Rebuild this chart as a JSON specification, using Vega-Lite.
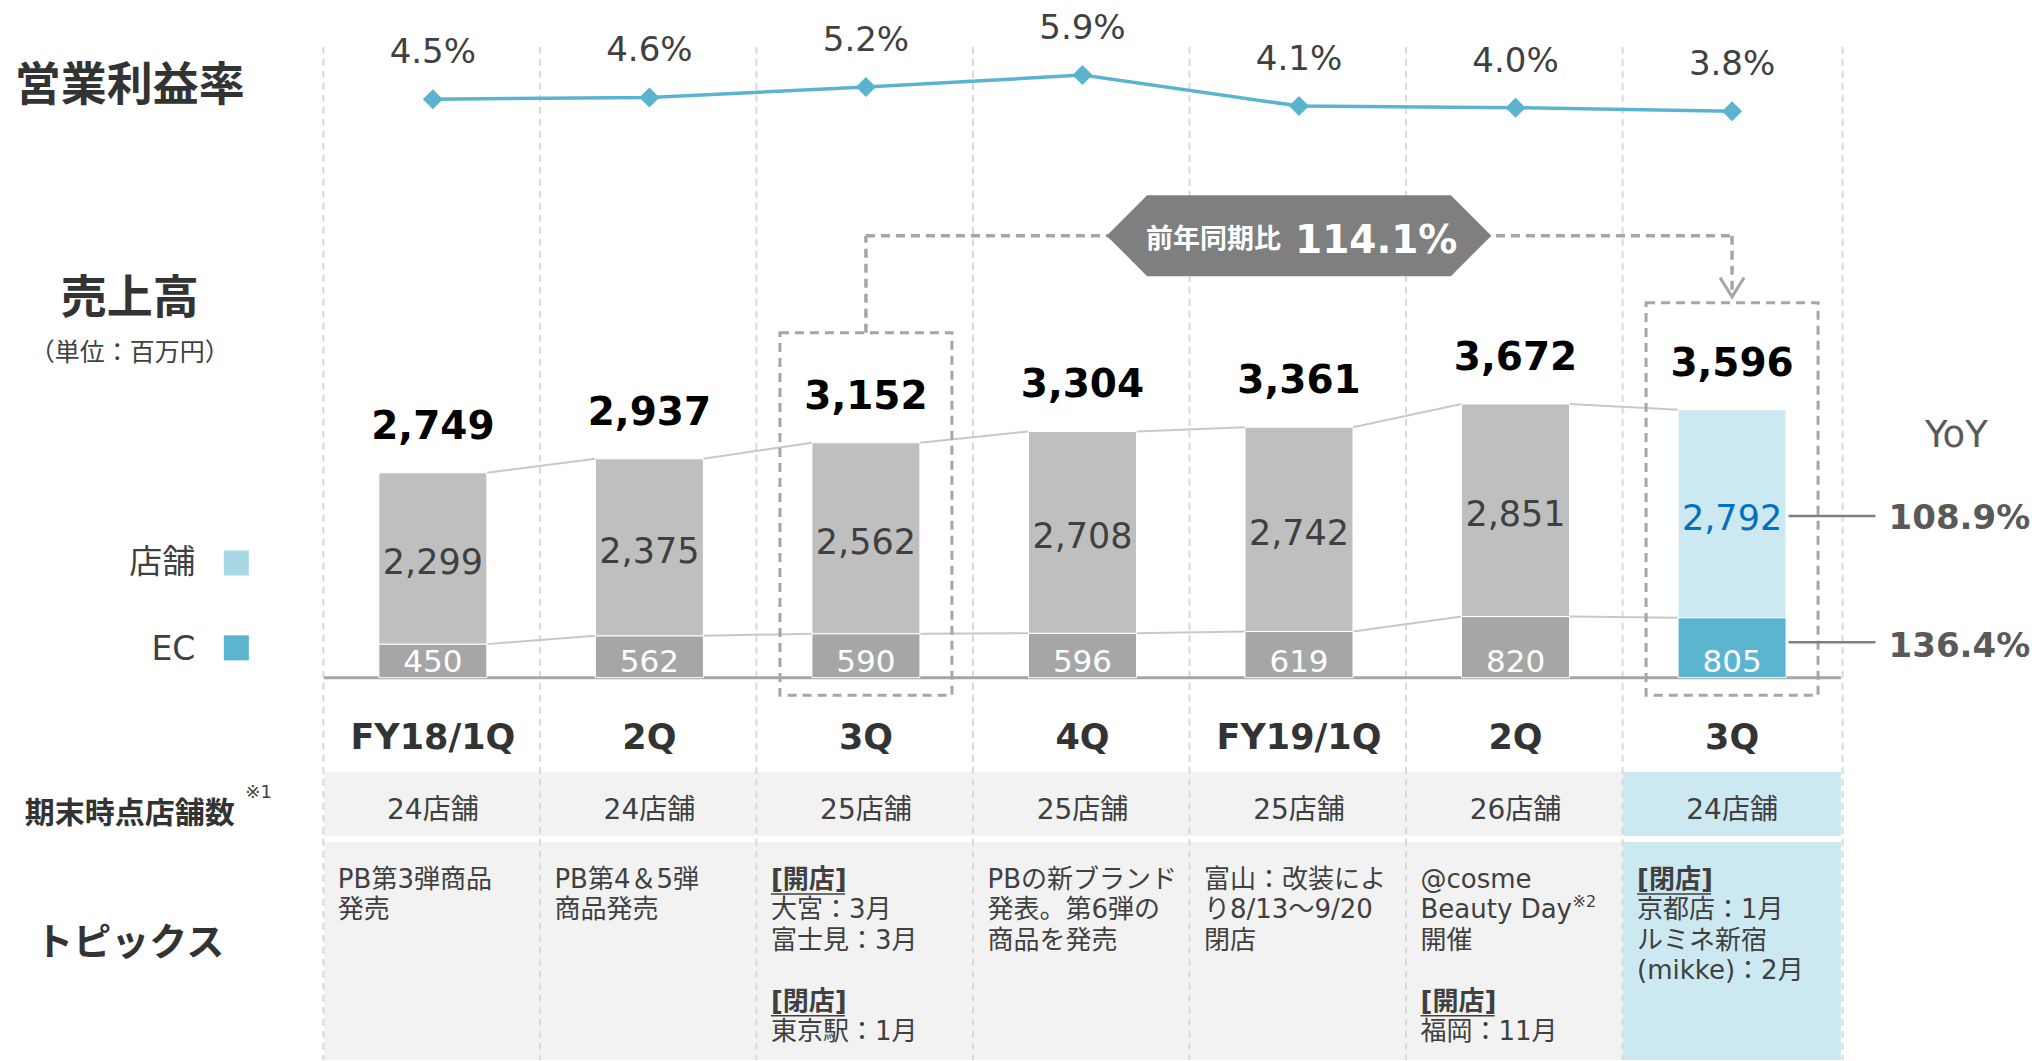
{
"$schema":"https://vega.github.io/schema/vega-lite/v6.json",
"width":2040,"height":1061,
"autosize":{"type":"fit","contains":"padding"},
"padding":0,
"background":"#ffffff",
"config":{"view":{"stroke":null},"text":{"font":"DejaVu Sans, Noto Sans CJK JP","baseline":"middle"}},
"datasets":{
 "sales":[
  {"q":1,"period":"FY18/1Q","store":2299,"ec":450,"total":2749,"shops":"24店舗"},
  {"q":2,"period":"2Q","store":2375,"ec":562,"total":2937,"shops":"24店舗"},
  {"q":3,"period":"3Q","store":2562,"ec":590,"total":3152,"shops":"25店舗"},
  {"q":4,"period":"4Q","store":2708,"ec":596,"total":3304,"shops":"25店舗"},
  {"q":5,"period":"FY19/1Q","store":2742,"ec":619,"total":3361,"shops":"25店舗"},
  {"q":6,"period":"2Q","store":2851,"ec":820,"total":3672,"shops":"26店舗"},
  {"q":7,"period":"3Q","store":2792,"ec":805,"total":3596,"shops":"24店舗"}
 ],
 "margin":[{"q":1,"rate":0.045},{"q":2,"rate":0.046},{"q":3,"rate":0.052},{"q":4,"rate":0.059},{"q":5,"rate":0.041},{"q":6,"rate":0.040},{"q":7,"rate":0.038}],
 "topics":[
  {"q":1,"line":0,"t":"PB第3弾商品"},
  {"q":1,"line":1,"t":"発売"},
  {"q":2,"line":0,"t":"PB第4＆5弾"},
  {"q":2,"line":1,"t":"商品発売"},
  {"q":3,"line":0,"t":"[開店]","head":true},
  {"q":3,"line":1,"t":"大宮：3月"},
  {"q":3,"line":2,"t":"富士見：3月"},
  {"q":3,"line":4,"t":"[閉店]","head":true},
  {"q":3,"line":5,"t":"東京駅：1月"},
  {"q":4,"line":0,"t":"PBの新ブランド"},
  {"q":4,"line":1,"t":"発表。第6弾の"},
  {"q":4,"line":2,"t":"商品を発売"},
  {"q":5,"line":0,"t":"富山：改装によ"},
  {"q":5,"line":1,"t":"り8/13～9/20"},
  {"q":5,"line":2,"t":"閉店"},
  {"q":6,"line":0,"t":"@cosme"},
  {"q":6,"line":1,"t":"Beauty Day","note":"※2"},
  {"q":6,"line":2,"t":"開催"},
  {"q":6,"line":4,"t":"[開店]","head":true},
  {"q":6,"line":5,"t":"福岡：11月"},
  {"q":7,"line":0,"t":"[閉店]","head":true},
  {"q":7,"line":1,"t":"京都店：1月"},
  {"q":7,"line":2,"t":"ルミネ新宿"},
  {"q":7,"line":3,"t":"(mikke)：2月"}
 ],
 "yoy":[{"seg":"store","yoy":1.089},{"seg":"ec","yoy":1.364}]
},
"resolve":{"scale":{"y":"independent"}},
"layer":[
 {
  "layer":[
   {"data":{"name":"sales"},
    "mark":{"type":"rect","xOffset":-108.8,"x2Offset":108.8},
    "encoding":{
     "x":{"field":"q","type":"quantitative","scale":{"domain":[-0.976,8.399],"nice":false,"zero":false},"axis":null},
     "x2":{"field":"q"},
     "y":{"datum":-1267,"type":"quantitative","scale":{"domain":[-5130,9092.5],"nice":false,"zero":false},"axis":null},
     "y2":{"datum":-2125},
     "fill":{"condition":{"test":"datum.q === 7","value":"#CCE8F0"},"value":"#F2F2F2"}}},
   {"data":{"name":"sales"},
    "mark":{"type":"rect","xOffset":-108.8,"x2Offset":108.8},
    "encoding":{
     "x":{"field":"q","type":"quantitative","scale":{"domain":[-0.976,8.399],"nice":false,"zero":false},"axis":null},
     "x2":{"field":"q"},
     "y":{"datum":-2205,"type":"quantitative","scale":{"domain":[-5130,9092.5],"nice":false,"zero":false},"axis":null},
     "y2":{"datum":-5130},
     "fill":{"condition":{"test":"datum.q === 7","value":"#CCE8F0"},"value":"#F2F2F2"}}},
   {"data":{"name":"sales"},
    "mark":{"type":"rule","xOffset":-109.5,"stroke":"#D9D9D9","strokeWidth":2,"strokeDash":[7,5]},
    "encoding":{
     "x":{"field":"q","type":"quantitative","scale":{"domain":[-0.976,8.399],"nice":false,"zero":false},"axis":null},
     "y":{"datum":8463,"type":"quantitative","scale":{"domain":[-5130,9092.5],"nice":false,"zero":false},"axis":null},
     "y2":{"datum":-5130}}},
   {"data":{"name":"sales"},
    "transform":[{"filter":"datum.q === 7"}],
    "mark":{"type":"rule","xOffset":110.5,"stroke":"#D9D9D9","strokeWidth":2,"strokeDash":[7,5]},
    "encoding":{
     "x":{"field":"q","type":"quantitative","scale":{"domain":[-0.976,8.399],"nice":false,"zero":false},"axis":null},
     "y":{"datum":8463,"type":"quantitative","scale":{"domain":[-5130,9092.5],"nice":false,"zero":false},"axis":null},
     "y2":{"datum":-5130}}},
   {"data":{"values":[{}]},
    "mark":{"type":"rule","xOffset":-108.8,"x2Offset":108.8,"stroke":"#A6A6A6","strokeWidth":3},
    "encoding":{
     "x":{"datum":1,"type":"quantitative","scale":{"domain":[-0.976,8.399],"nice":false,"zero":false},"axis":null},
     "x2":{"datum":7},
     "y":{"datum":0,"type":"quantitative","scale":{"domain":[-5130,9092.5],"nice":false,"zero":false},"axis":null}}},
   {"data":{"name":"sales"},
    "transform":[{"window":[{"op":"lead","field":"total","as":"nt"},{"op":"lead","field":"ec","as":"ne"},{"op":"lead","field":"q","as":"nq"}],"sort":[{"field":"q"}]},{"filter":"isValid(datum.nq)"}],
    "mark":{"type":"rule","xOffset":54,"x2Offset":-54,"stroke":"#C8C8C8","strokeWidth":2},
    "encoding":{
     "x":{"field":"q","type":"quantitative","scale":{"domain":[-0.976,8.399],"nice":false,"zero":false},"axis":null},
     "x2":{"field":"nq"},
     "y":{"field":"total","type":"quantitative","scale":{"domain":[-5130,9092.5],"nice":false,"zero":false},"axis":null},
     "y2":{"field":"nt"}}},
   {"data":{"name":"sales"},
    "transform":[{"window":[{"op":"lead","field":"total","as":"nt"},{"op":"lead","field":"ec","as":"ne"},{"op":"lead","field":"q","as":"nq"}],"sort":[{"field":"q"}]},{"filter":"isValid(datum.nq)"}],
    "mark":{"type":"rule","xOffset":54,"x2Offset":-54,"stroke":"#C8C8C8","strokeWidth":2},
    "encoding":{
     "x":{"field":"q","type":"quantitative","scale":{"domain":[-0.976,8.399],"nice":false,"zero":false},"axis":null},
     "x2":{"field":"nq"},
     "y":{"field":"ec","type":"quantitative","scale":{"domain":[-5130,9092.5],"nice":false,"zero":false},"axis":null},
     "y2":{"field":"ne"}}},
   {"data":{"name":"sales"},
    "mark":{"type":"bar","orient":"vertical","width":108,"opacity":1,"stroke":"#ffffff","strokeWidth":1},
    "encoding":{
     "x":{"field":"q","type":"quantitative","scale":{"domain":[-0.976,8.399],"nice":false,"zero":false},"axis":null},
     "y":{"field":"ec","type":"quantitative","scale":{"domain":[-5130,9092.5],"nice":false,"zero":false},"axis":null},
     "y2":{"datum":0},
     "fill":{"condition":{"test":"datum.q === 7","value":"#5BB5D0"},"value":"#A6A6A6"}}},
   {"data":{"name":"sales"},
    "mark":{"type":"bar","orient":"vertical","width":108,"opacity":1,"stroke":"#ffffff","strokeWidth":1},
    "encoding":{
     "x":{"field":"q","type":"quantitative","scale":{"domain":[-0.976,8.399],"nice":false,"zero":false},"axis":null},
     "y":{"field":"total","type":"quantitative","scale":{"domain":[-5130,9092.5],"nice":false,"zero":false},"axis":null},
     "y2":{"field":"ec"},
     "fill":{"condition":{"test":"datum.q === 7","value":"#CCE8F0"},"value":"#BFBFBF"}}},
   {"data":{"name":"sales"},
    "mark":{"type":"text","dy":-46,"fontSize":39,"fontWeight":"bold","fill":"#000000"},
    "encoding":{
     "x":{"field":"q","type":"quantitative","scale":{"domain":[-0.976,8.399],"nice":false,"zero":false},"axis":null},
     "y":{"field":"total","type":"quantitative","scale":{"domain":[-5130,9092.5],"nice":false,"zero":false},"axis":null},
     "text":{"field":"total","type":"quantitative","format":","}}},
   {"data":{"name":"sales"},
    "transform":[{"fold":["ec","total"],"as":["part","edge"]},{"aggregate":[{"op":"mean","field":"edge","as":"mid"}],"groupby":["q","store"]}],
    "mark":{"type":"text","dy":5,"fontSize":35},
    "encoding":{
     "x":{"field":"q","type":"quantitative","scale":{"domain":[-0.976,8.399],"nice":false,"zero":false},"axis":null},
     "y":{"field":"mid","type":"quantitative","scale":{"domain":[-5130,9092.5],"nice":false,"zero":false},"axis":null},
     "text":{"field":"store","type":"quantitative","format":","},
     "fill":{"condition":{"test":"datum.q === 7","value":"#0070C0"},"value":"#404040"}}},
   {"data":{"name":"sales"},
    "mark":{"type":"text","dy":-15,"fontSize":31,"fill":"#ffffff"},
    "encoding":{
     "x":{"field":"q","type":"quantitative","scale":{"domain":[-0.976,8.399],"nice":false,"zero":false},"axis":null},
     "y":{"datum":0,"type":"quantitative","scale":{"domain":[-5130,9092.5],"nice":false,"zero":false},"axis":null},
     "text":{"field":"ec","type":"quantitative","format":","}}},
   {"data":{"name":"sales"},
    "mark":{"type":"text","dy":1,"fontSize":35,"fontWeight":"bold","fill":"#333333"},
    "encoding":{
     "x":{"field":"q","type":"quantitative","scale":{"domain":[-0.976,8.399],"nice":false,"zero":false},"axis":null},
     "y":{"datum":-800,"type":"quantitative","scale":{"domain":[-5130,9092.5],"nice":false,"zero":false},"axis":null},
     "text":{"field":"period","type":"nominal"}}},
   {"data":{"name":"sales"},
    "mark":{"type":"text","dy":5,"fontSize":28,"fill":"#404040"},
    "encoding":{
     "x":{"field":"q","type":"quantitative","scale":{"domain":[-0.976,8.399],"nice":false,"zero":false},"axis":null},
     "y":{"datum":-1725,"type":"quantitative","scale":{"domain":[-5130,9092.5],"nice":false,"zero":false},"axis":null},
     "text":{"field":"shops","type":"nominal"}}},
   {"data":{"values":[{}]},
    "mark":{"type":"rect","xOffset":-86,"x2Offset":86,"fill":null,"fillOpacity":0,"stroke":"#A6A6A6","strokeWidth":3,"strokeDash":[9,6]},
    "encoding":{
     "x":{"datum":3,"type":"quantitative","scale":{"domain":[-0.976,8.399],"nice":false,"zero":false},"axis":null},
     "x2":{"datum":3},
     "y":{"datum":4629,"type":"quantitative","scale":{"domain":[-5130,9092.5],"nice":false,"zero":false},"axis":null},
     "y2":{"datum":-237}}},
   {"data":{"values":[{}]},
    "mark":{"type":"rect","xOffset":-86,"x2Offset":86,"fill":null,"fillOpacity":0,"stroke":"#A6A6A6","strokeWidth":3,"strokeDash":[9,6]},
    "encoding":{
     "x":{"datum":7,"type":"quantitative","scale":{"domain":[-0.976,8.399],"nice":false,"zero":false},"axis":null},
     "x2":{"datum":7},
     "y":{"datum":5031,"type":"quantitative","scale":{"domain":[-5130,9092.5],"nice":false,"zero":false},"axis":null},
     "y2":{"datum":-237}}},
   {"data":{"values":[{}]},
    "mark":{"type":"rule","stroke":"#A6A6A6","strokeWidth":3.5,"strokeDash":[9,6]},
    "encoding":{
     "x":{"datum":3,"type":"quantitative","scale":{"domain":[-0.976,8.399],"nice":false,"zero":false},"axis":null},
     "y":{"datum":4629,"type":"quantitative","scale":{"domain":[-5130,9092.5],"nice":false,"zero":false},"axis":null},
     "y2":{"datum":5931}}},
   {"data":{"values":[{}]},
    "mark":{"type":"rule","stroke":"#A6A6A6","strokeWidth":3.5,"strokeDash":[9,6]},
    "encoding":{
     "x":{"datum":3,"type":"quantitative","scale":{"domain":[-0.976,8.399],"nice":false,"zero":false},"axis":null},
     "x2":{"datum":7},
     "y":{"datum":5931,"type":"quantitative","scale":{"domain":[-5130,9092.5],"nice":false,"zero":false},"axis":null}}},
   {"data":{"values":[{}]},
    "mark":{"type":"rule","stroke":"#A6A6A6","strokeWidth":3.5,"strokeDash":[9,6]},
    "encoding":{
     "x":{"datum":7,"type":"quantitative","scale":{"domain":[-0.976,8.399],"nice":false,"zero":false},"axis":null},
     "y":{"datum":5931,"type":"quantitative","scale":{"domain":[-5130,9092.5],"nice":false,"zero":false},"axis":null},
     "y2":{"datum":5111}}},
   {"data":{"values":[{}]},
    "mark":{"type":"point","shape":"M -1 -0.8 L 0 0.8 L 1 -0.8","size":576,"filled":false,"opacity":1,"stroke":"#A6A6A6","strokeWidth":3},
    "encoding":{
     "x":{"datum":7,"type":"quantitative","scale":{"domain":[-0.976,8.399],"nice":false,"zero":false},"axis":null},
     "y":{"datum":5239,"type":"quantitative","scale":{"domain":[-5130,9092.5],"nice":false,"zero":false},"axis":null}}},
   {"data":{"values":[{}]},
    "mark":{"type":"point","shape":"M -4.75 0 L -3.75 -1 L 3.75 -1 L 4.75 0 L 3.75 1 L -3.75 1 Z","size":6561,"filled":true,"opacity":1,"fill":"#7F7F7F","strokeWidth":0},
    "encoding":{
     "x":{"datum":5,"type":"quantitative","scale":{"domain":[-0.976,8.399],"nice":false,"zero":false},"axis":null},
     "y":{"datum":5931,"type":"quantitative","scale":{"domain":[-5130,9092.5],"nice":false,"zero":false},"axis":null}}},
   {"data":{"values":[{"t":"前年同期比"}]},
    "mark":{"type":"text","align":"right","dx":-18,"dy":4,"fontSize":27,"fontWeight":"bold","fill":"#ffffff"},
    "encoding":{
     "x":{"datum":5,"type":"quantitative","scale":{"domain":[-0.976,8.399],"nice":false,"zero":false},"axis":null},
     "y":{"datum":5931,"type":"quantitative","scale":{"domain":[-5130,9092.5],"nice":false,"zero":false},"axis":null},
     "text":{"field":"t"}}},
   {"data":{"values":[{"r":1.141}]},
    "mark":{"type":"text","align":"left","dx":-4,"dy":5,"fontSize":39,"fontWeight":"bold","fill":"#ffffff"},
    "encoding":{
     "x":{"datum":5,"type":"quantitative","scale":{"domain":[-0.976,8.399],"nice":false,"zero":false},"axis":null},
     "y":{"datum":5931,"type":"quantitative","scale":{"domain":[-5130,9092.5],"nice":false,"zero":false},"axis":null},
     "text":{"field":"r","type":"quantitative","format":".1%"}}},
   {"data":{"values":[{"t":"営業利益率"}]},
    "mark":{"type":"text","dy":1,"fontSize":46,"fontWeight":"bold","fill":"#333333"},
    "encoding":{
     "x":{"datum":-0.4,"type":"quantitative","scale":{"domain":[-0.976,8.399],"nice":false,"zero":false},"axis":null},
     "y":{"datum":7953,"type":"quantitative","scale":{"domain":[-5130,9092.5],"nice":false,"zero":false},"axis":null},
     "text":{"field":"t"}}},
   {"data":{"values":[{"t":"売上高"}]},
    "mark":{"type":"text","dy":2,"fontSize":46,"fontWeight":"bold","fill":"#333333"},
    "encoding":{
     "x":{"datum":-0.4,"type":"quantitative","scale":{"domain":[-0.976,8.399],"nice":false,"zero":false},"axis":null},
     "y":{"datum":5111,"type":"quantitative","scale":{"domain":[-5130,9092.5],"nice":false,"zero":false},"axis":null},
     "text":{"field":"t"}}},
   {"data":{"values":[{"t":"（単位：百万円）"}]},
    "mark":{"type":"text","dy":1,"fontSize":25,"fill":"#404040"},
    "encoding":{
     "x":{"datum":-0.4,"type":"quantitative","scale":{"domain":[-0.976,8.399],"nice":false,"zero":false},"axis":null},
     "y":{"datum":4374,"type":"quantitative","scale":{"domain":[-5130,9092.5],"nice":false,"zero":false},"axis":null},
     "text":{"field":"t"}}},
   {"data":{"values":[{"t":"期末時点店舗数"}]},
    "mark":{"type":"text","dy":3,"fontSize":30,"fontWeight":"bold","fill":"#333333"},
    "encoding":{
     "x":{"datum":-0.4,"type":"quantitative","scale":{"domain":[-0.976,8.399],"nice":false,"zero":false},"axis":null},
     "y":{"datum":-1790,"type":"quantitative","scale":{"domain":[-5130,9092.5],"nice":false,"zero":false},"axis":null},
     "text":{"field":"t"}}},
   {"data":{"values":[{"t":"※1"}]},
    "mark":{"type":"text","align":"left","dx":29,"dy":2,"fontSize":18,"fill":"#404040"},
    "encoding":{
     "x":{"datum":0,"type":"quantitative","scale":{"domain":[-0.976,8.399],"nice":false,"zero":false},"axis":null},
     "y":{"datum":-1521,"type":"quantitative","scale":{"domain":[-5130,9092.5],"nice":false,"zero":false},"axis":null},
     "text":{"field":"t"}}},
   {"data":{"values":[{"t":"トピックス"}]},
    "mark":{"type":"text","dy":2,"fontSize":38,"fontWeight":"bold","fill":"#333333"},
    "encoding":{
     "x":{"datum":-0.4,"type":"quantitative","scale":{"domain":[-0.976,8.399],"nice":false,"zero":false},"axis":null},
     "y":{"datum":-3548,"type":"quantitative","scale":{"domain":[-5130,9092.5],"nice":false,"zero":false},"axis":null},
     "text":{"field":"t"}}},
   {"data":{"values":[{"t":"店舗"}]},
    "mark":{"type":"text","align":"right","dx":-21,"dy":4,"fontSize":33,"fill":"#404040"},
    "encoding":{
     "x":{"datum":0,"type":"quantitative","scale":{"domain":[-0.976,8.399],"nice":false,"zero":false},"axis":null},
     "y":{"datum":1586,"type":"quantitative","scale":{"domain":[-5130,9092.5],"nice":false,"zero":false},"axis":null},
     "text":{"field":"t"}}},
   {"data":{"values":[{"t":"EC"}]},
    "mark":{"type":"text","align":"right","dx":-21,"dy":4,"fontSize":33,"fill":"#404040"},
    "encoding":{
     "x":{"datum":0,"type":"quantitative","scale":{"domain":[-0.976,8.399],"nice":false,"zero":false},"axis":null},
     "y":{"datum":420,"type":"quantitative","scale":{"domain":[-5130,9092.5],"nice":false,"zero":false},"axis":null},
     "text":{"field":"t"}}},
   {"data":{"values":[{}]},
    "mark":{"type":"point","shape":"square","size":625,"filled":true,"opacity":1,"xOffset":20,"fill":"#A8D8E5","strokeWidth":0},
    "encoding":{
     "x":{"datum":0,"type":"quantitative","scale":{"domain":[-0.976,8.399],"nice":false,"zero":false},"axis":null},
     "y":{"datum":1539,"type":"quantitative","scale":{"domain":[-5130,9092.5],"nice":false,"zero":false},"axis":null}}},
   {"data":{"values":[{}]},
    "mark":{"type":"point","shape":"square","size":625,"filled":true,"opacity":1,"xOffset":20,"fill":"#5BB5D0","strokeWidth":0},
    "encoding":{
     "x":{"datum":0,"type":"quantitative","scale":{"domain":[-0.976,8.399],"nice":false,"zero":false},"axis":null},
     "y":{"datum":400,"type":"quantitative","scale":{"domain":[-5130,9092.5],"nice":false,"zero":false},"axis":null}}},
   {"data":{"values":[{"t":"YoY"}]},
    "mark":{"type":"text","dy":2,"fontSize":37,"fill":"#595959"},
    "encoding":{
     "x":{"datum":8.036,"type":"quantitative","scale":{"domain":[-0.976,8.399],"nice":false,"zero":false},"axis":null},
     "y":{"datum":3275,"type":"quantitative","scale":{"domain":[-5130,9092.5],"nice":false,"zero":false},"axis":null},
     "text":{"field":"t"}}},
   {"data":{"name":"yoy"},
    "transform":[{"filter":"datum.seg === 'store'"}],
    "mark":{"type":"text","dy":3,"fontSize":34,"fontWeight":"bold","fill":"#595959"},
    "encoding":{
     "x":{"datum":8.05,"type":"quantitative","scale":{"domain":[-0.976,8.399],"nice":false,"zero":false},"axis":null},
     "y":{"datum":2169,"type":"quantitative","scale":{"domain":[-5130,9092.5],"nice":false,"zero":false},"axis":null},
     "text":{"field":"yoy","type":"quantitative","format":".1%"}}},
   {"data":{"name":"yoy"},
    "transform":[{"filter":"datum.seg === 'ec'"}],
    "mark":{"type":"text","dy":4,"fontSize":34,"fontWeight":"bold","fill":"#595959"},
    "encoding":{
     "x":{"datum":8.05,"type":"quantitative","scale":{"domain":[-0.976,8.399],"nice":false,"zero":false},"axis":null},
     "y":{"datum":462,"type":"quantitative","scale":{"domain":[-5130,9092.5],"nice":false,"zero":false},"axis":null},
     "text":{"field":"yoy","type":"quantitative","format":".1%"}}},
   {"data":{"values":[{}]},
    "mark":{"type":"rule","xOffset":56.4,"x2Offset":143.4,"stroke":"#7F7F7F","strokeWidth":2.5},
    "encoding":{
     "x":{"datum":7,"type":"quantitative","scale":{"domain":[-0.976,8.399],"nice":false,"zero":false},"axis":null},
     "x2":{"datum":7},
     "y":{"datum":2169,"type":"quantitative","scale":{"domain":[-5130,9092.5],"nice":false,"zero":false},"axis":null}}},
   {"data":{"values":[{}]},
    "mark":{"type":"rule","xOffset":56.4,"x2Offset":143.4,"stroke":"#7F7F7F","strokeWidth":2.5},
    "encoding":{
     "x":{"datum":7,"type":"quantitative","scale":{"domain":[-0.976,8.399],"nice":false,"zero":false},"axis":null},
     "x2":{"datum":7},
     "y":{"datum":476,"type":"quantitative","scale":{"domain":[-5130,9092.5],"nice":false,"zero":false},"axis":null}}}
  ]
 },
 {
  "data":{"name":"margin"},
  "layer":[
   {"mark":{"type":"line","stroke":"#5AB4D0","strokeWidth":3.5},
    "encoding":{
     "x":{"field":"q","type":"quantitative","scale":{"domain":[-0.976,8.399],"nice":false,"zero":false},"axis":null},
     "y":{"field":"rate","type":"quantitative","scale":{"domain":[-0.5142,0.1027],"nice":false,"zero":false},"axis":null}}},
   {"mark":{"type":"point","shape":"diamond","size":400,"filled":true,"opacity":1,"fill":"#5AB4D0","strokeWidth":0},
    "encoding":{
     "x":{"field":"q","type":"quantitative","scale":{"domain":[-0.976,8.399],"nice":false,"zero":false},"axis":null},
     "y":{"field":"rate","type":"quantitative","scale":{"domain":[-0.5142,0.1027],"nice":false,"zero":false},"axis":null}}},
   {"mark":{"type":"text","dy":-46,"fontSize":34,"fill":"#404040"},
    "encoding":{
     "x":{"field":"q","type":"quantitative","scale":{"domain":[-0.976,8.399],"nice":false,"zero":false},"axis":null},
     "y":{"field":"rate","type":"quantitative","scale":{"domain":[-0.5142,0.1027],"nice":false,"zero":false},"axis":null},
     "text":{"field":"rate","type":"quantitative","format":".1%"}}}
  ]
 },
 {
  "data":{"name":"topics"},
  "layer":[
   {"transform":[{"filter":"!datum.head"}],
    "mark":{"type":"text","align":"left","dx":-95,"fontSize":26,"fill":"#404040"},
    "encoding":{
     "x":{"field":"q","type":"quantitative","scale":{"domain":[-0.976,8.399],"nice":false,"zero":false},"axis":null},
     "y":{"field":"line","type":"quantitative","scale":{"domain":[-28.875,5.911],"nice":false,"zero":false,"reverse":true},"axis":null},
     "text":{"field":"t","type":"nominal"}}},
   {"transform":[{"filter":"datum.head === true"}],
    "mark":{"type":"text","align":"left","dx":-95,"fontSize":26,"fontWeight":"bold","fill":"#404040"},
    "encoding":{
     "x":{"field":"q","type":"quantitative","scale":{"domain":[-0.976,8.399],"nice":false,"zero":false},"axis":null},
     "y":{"field":"line","type":"quantitative","scale":{"domain":[-28.875,5.911],"nice":false,"zero":false,"reverse":true},"axis":null},
     "text":{"field":"t","type":"nominal"}}},
   {"transform":[{"filter":"datum.head === true"}],
    "mark":{"type":"rule","xOffset":-95,"x2Offset":-21,"yOffset":14,"stroke":"#404040","strokeWidth":1.5},
    "encoding":{
     "x":{"field":"q","type":"quantitative","scale":{"domain":[-0.976,8.399],"nice":false,"zero":false},"axis":null},
     "x2":{"field":"q"},
     "y":{"field":"line","type":"quantitative","scale":{"domain":[-28.875,5.911],"nice":false,"zero":false,"reverse":true},"axis":null}}},
   {"transform":[{"filter":"isValid(datum.note)"}],
    "mark":{"type":"text","align":"left","dx":57,"dy":-8,"fontSize":16,"fill":"#404040"},
    "encoding":{
     "x":{"field":"q","type":"quantitative","scale":{"domain":[-0.976,8.399],"nice":false,"zero":false},"axis":null},
     "y":{"field":"line","type":"quantitative","scale":{"domain":[-28.875,5.911],"nice":false,"zero":false,"reverse":true},"axis":null},
     "text":{"field":"note","type":"nominal"}}}
  ]
 }
]
}
